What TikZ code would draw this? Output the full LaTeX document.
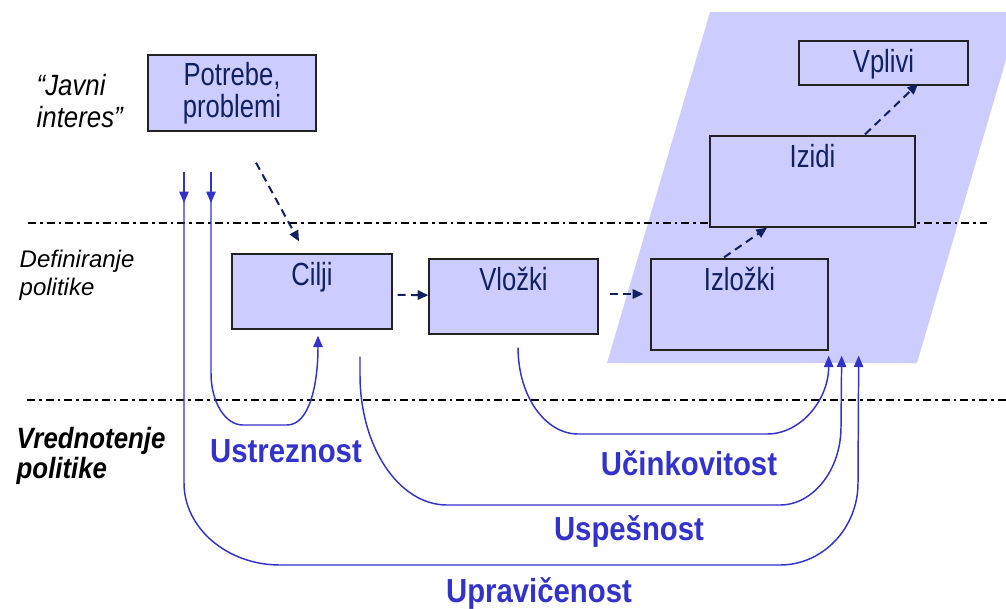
\documentclass[tikz,border=0pt]{standalone}
\usepackage{fontspec}
\setmainfont{Liberation Sans}[FakeStretch=0.88]
\newfontfamily\plainsans{Liberation Sans}
\newfontfamily\boxsans{Liberation Sans}[FakeStretch=0.8]
\usetikzlibrary{arrows.meta}
\definecolor{boxfill}{RGB}{204,204,255}
\definecolor{boxline}{RGB}{34,34,34}
\definecolor{navy}{RGB}{16,32,96}
\definecolor{evalblue}{RGB}{51,51,204}

\begin{document}
\begin{tikzpicture}[x=0.75pt,y=0.75pt,yscale=-1,xscale=1,
  box/.style={draw=boxline, line width=1pt, fill=boxfill, text=navy, inner sep=0pt, font=\boxsans\fontsize{24}{24}\selectfont},
  stagebox/.style={box, text height=23.25pt},
  flow/.style={navy, line width=1.5pt, dash pattern=on 6pt off 4pt, -{Triangle[length=8pt,width=7pt]}},
  evalline/.style={evalblue, line width=1.1pt},
  evaltip/.style={evalline, -{Triangle[length=8.5pt,width=7pt]}},
  evallabel/.style={evalblue, anchor=base, font=\fontsize{25}{30}\selectfont\bfseries},
  levelline/.style={black, line width=1.6pt, dash pattern=on 6pt off 3pt on 2pt off 3pt}]
\useasboundingbox (0,0) rectangle (1006,608);

%Shape: Parallelogram
\fill [boxfill] (607,363) -- (710,12) -- (1020,12) -- (917,363) -- cycle ;
%Straight Lines
\draw [levelline] (28,223) -- (987,223) ;
\draw [levelline] (27,400) -- (1006,400) ;

% Text Node (anchored at the last line)
\node [anchor=base west, align=left, font=\fontsize{22}{24}\selectfont\itshape] (javni) at (32,127) {“Javni\\interes”};
\node [anchor=base west, align=left, font=\plainsans\fontsize{18}{21}\selectfont\itshape] (definiranje) at (15,295) {Definiranje\\politike};
\node [anchor=base west, align=left, font=\fontsize{22}{22.5}\selectfont\bfseries\itshape] (vrednotenje) at (12,478) {Vrednotenje\\politike};

% Boxes
\node [box, align=center, minimum width=126pt, minimum height=57pt] (potrebe) at (232,93) {Potrebe,\\problemi};
\node [stagebox, minimum width=120pt, text depth=33pt] (cilji) at (312,291.5) {Cilji};
\node [stagebox, minimum width=126.75pt, text depth=33pt] (vlozki) at (513.5,296.5) {Vložki};
\node [stagebox, minimum width=132.75pt, text depth=45pt] (izlozki) at (739.5,304.5) {Izložki};
\node [stagebox, minimum width=153.75pt, text depth=45pt] (izidi) at (812.5,181.5) {Izidi};
\node [stagebox, minimum width=126.75pt, text depth=9.75pt] (vplivi) at (883.5,63) {Vplivi};

% Dashed arrows
\draw [flow] ([xshift=18pt,yshift=23.25pt]potrebe.south) -- ([xshift=-9.75pt,yshift=-9pt]cilji.north) ;
\draw [flow] ([xshift=3.75pt,yshift=2.5pt]cilji.east) -- ([yshift=-1pt]vlozki.west) ;
\draw [flow] ([xshift=8.25pt,yshift=-1.9pt]vlozki.east) -- ([xshift=-5.25pt,yshift=-7.9pt]izlozki.west) ;
\draw [flow] ([xshift=-11.6pt,yshift=-0.75pt]izlozki.north) -- ([xshift=-34.1pt]izidi.south) ;
\draw [flow] ([xshift=39.4pt,yshift=-0.75pt]izidi.north) -- ([xshift=25.9pt,yshift=-1.5pt]vplivi.south) ;

% Evaluation loops
\coordinate (upr) at (184,172);
\coordinate (ust) at (211,172);
\draw [evaltip] (upr) -- (184,203) ;
\draw [evaltip] (ust) -- (211,203) ;
\draw [evaltip] (ust) -- (211,373) .. controls +(0,29) and +(-18,0) .. (243,425) -- (287,425) .. controls +(22,0) and +(0,50) .. ([xshift=4.5pt,yshift=4.5pt]cilji.south) ;
\draw [evaltip] ([xshift=3.4pt,yshift=9.75pt]vlozki.south) .. controls +(0,48) and +(-33,0) .. (578,434) -- (767,434) .. controls +(34,0) and +(0,44) .. ([yshift=3.75pt]izlozki.south east) ;
\draw [evaltip] ([xshift=36pt,yshift=20.25pt]cilji.south) -- (360,375) .. controls +(0,72) and +(-48,0) .. (447,505) -- (780,505) .. controls +(33,0) and +(0,43) .. (841,427) -- ([xshift=9.75pt,yshift=3.75pt]izlozki.south east) ;
\draw [evaltip] (upr) -- (184,483) .. controls +(0,45) and +(-53,0) .. (280,565) -- (780,565) .. controls +(43,0) and +(0,45) .. (858,483) -- ([xshift=22.5pt,yshift=3.75pt]izlozki.south east) ;

% Text Node
\node [evallabel] (ustreznost) at (286,462) {Ustreznost};
\node [evallabel] (ucinkovitost) at (689,475) {Učinkovitost};
\node [evallabel] (uspesnost) at (629,540) {Uspešnost};
\node [evallabel] (upravicenost) at (539,602) {Upravičenost};

\end{tikzpicture}
\end{document}
